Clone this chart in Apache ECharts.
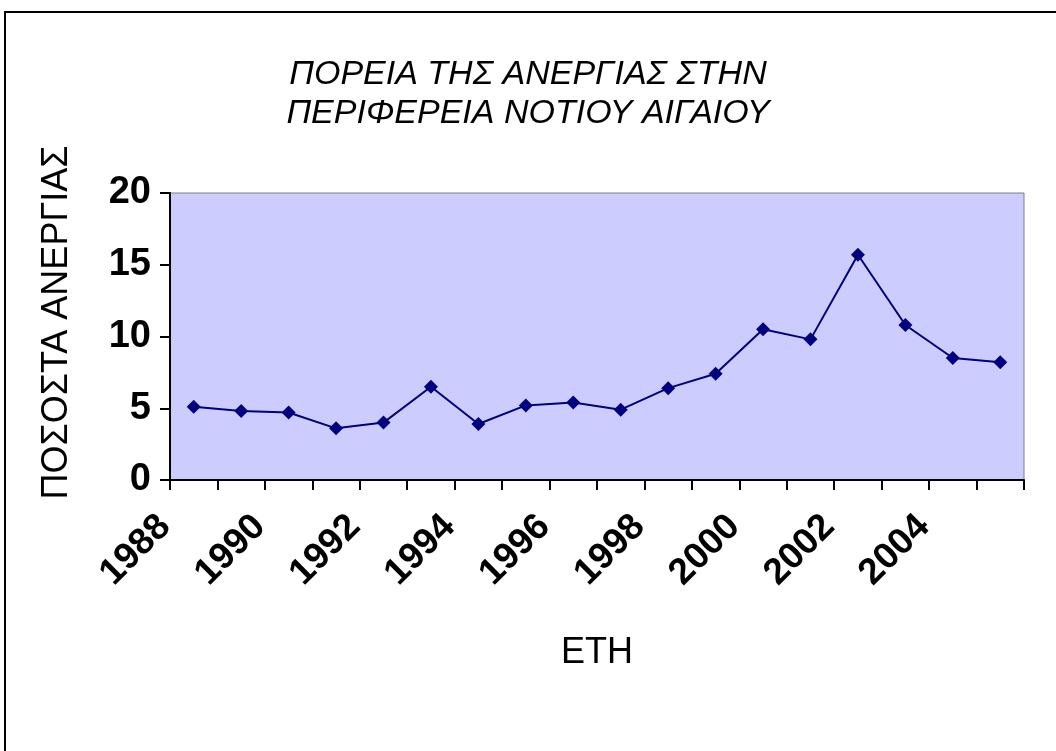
<!DOCTYPE html>
<html>
<head>
<meta charset="utf-8">
<script src="https://cdn.jsdelivr.net/npm/echarts@6/dist/echarts.min.js"></script>
<style>
  html, body { margin: 0; padding: 0; background: #fff; }
  #chart { width: 1056px; height: 751px; }
</style>
</head>
<body>
<div id="chart"></div>
<script>
var myChart = echarts.init(document.getElementById('chart'));

// έτη και ποσοστά ανεργίας
var years = ['1988', '1989', '1990', '1991', '1992', '1993', '1994', '1995', '1996',
             '1997', '1998', '1999', '2000', '2001', '2002', '2003', '2004', '2005'];
var rates = [5.1, 4.8, 4.7, 3.6, 4.0, 6.5, 3.9, 5.2, 5.4,
             4.9, 6.4, 7.4, 10.5, 9.8, 15.7, 10.8, 8.5, 8.2];
var yTicks = [0, 5, 10, 15, 20];

var font = 'Arial, "Liberation Sans", sans-serif';

var option = {
    animation: false,
    backgroundColor: '#fff',
    title: {
        text: 'ΠΟΡΕΙΑ ΤΗΣ ΑΝΕΡΓΙΑΣ ΣΤΗΝ\nΠΕΡΙΦΕΡΕΙΑ ΝΟΤΙΟΥ ΑΙΓΑΙΟΥ',
        left: 'center',
        top: 50,
        textStyle: {
            fontFamily: font,
            fontStyle: 'italic',
            fontWeight: 'normal',
            fontSize: 34,
            lineHeight: 39,
            color: '#000'
        }
    },
    // εξωτερικό πλαίσιο
    graphic: [{
        type: 'rect',
        shape: { x: 5, y: 12, width: 1200, height: 900 },
        style: { fill: 'none', stroke: '#000', lineWidth: 2 }
    }],
    grid: {
        left: 170,
        top: 193,
        right: 32,
        bottom: 271,
        show: true,
        backgroundColor: '#CCCCFF',
        borderColor: '#808080',
        borderWidth: 1
    },
    xAxis: {
        type: 'category',
        data: years,
        boundaryGap: true,
        name: 'ΕΤΗ',
        nameLocation: 'middle',
        nameGap: 155,
        nameTextStyle: { fontFamily: font, fontSize: 36, color: '#000' },
        axisLine: { lineStyle: { color: '#000', width: 2 } },
        axisTick: { show: true, length: 10, interval: 0, lineStyle: { color: '#000', width: 2 } },
        axisLabel: {
            interval: 1,
            rotate: 45,
            margin: 12,
            padding: [0, 41, 0, 0],
            fontFamily: font,
            fontWeight: 'bold',
            fontSize: 37,
            color: '#000'
        },
        splitLine: { show: false }
    },
    yAxis: {
        type: 'value',
        min: yTicks[0],
        max: yTicks[yTicks.length - 1],
        interval: 5,
        name: 'ΠΟΣΟΣΤΑ ΑΝΕΡΓΙΑΣ',
        nameLocation: 'middle',
        nameGap: 95,
        nameTextStyle: { fontFamily: font, fontSize: 36, color: '#000', padding: [0, 0, 0, 28] },
        axisLine: { show: true, lineStyle: { color: '#000', width: 2 } },
        axisTick: { show: true, length: 10, lineStyle: { color: '#000', width: 2 } },
        axisLabel: {
            margin: 19,
            fontFamily: font,
            fontWeight: 'bold',
            fontSize: 38,
            color: '#000'
        },
        splitLine: { show: false }
    },
    series: [{
        type: 'line',
        data: rates,
        symbol: 'diamond',
        symbolSize: 14,
        lineStyle: { color: '#000080', width: 2 },
        itemStyle: { color: '#000080' }
    }]
};

myChart.setOption(option);
</script>
</body>
</html>
